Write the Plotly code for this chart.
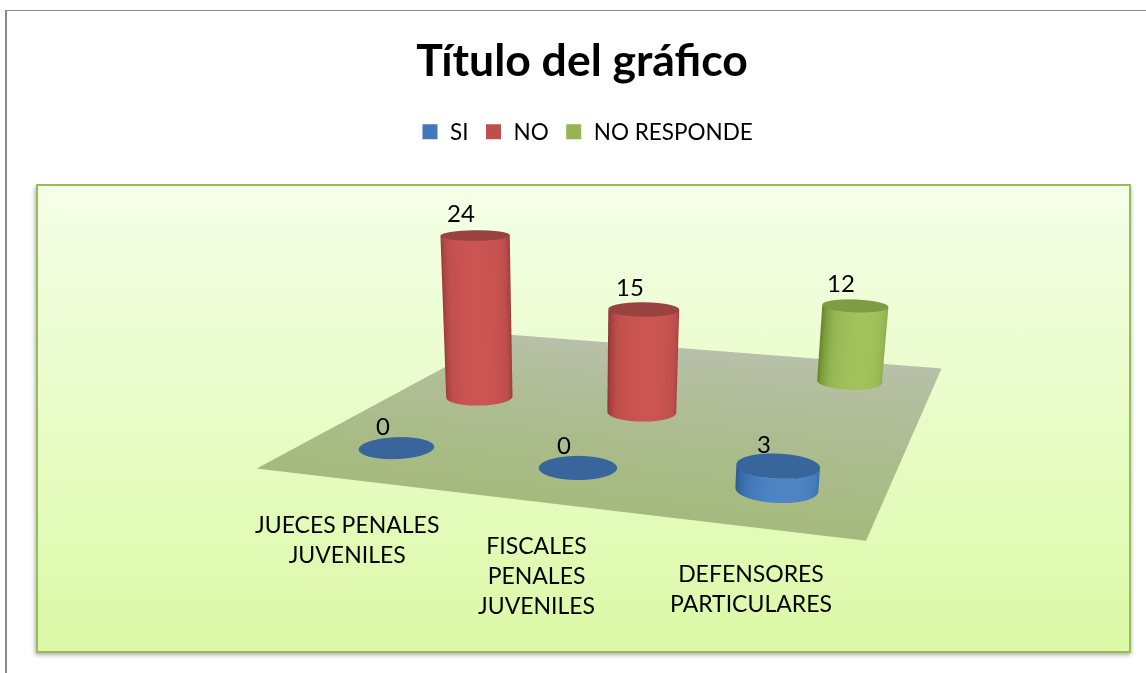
import numpy as np
import plotly.graph_objects as go
import urllib.parse

categories = ["JUECES PENALES<br>JUVENILES", "FISCALES<br>PENALES<br>JUVENILES", "DEFENSORES<br>PARTICULARES"]
series_names = ["SI", "NO", "NO RESPONDE"]
si_values = [0, 0, 3]
no_values = [24, 15, None]
nr_values = [None, None, 12]
series_colors = ["#4279B8", "#BE4F4C", "#94B552"]
dark_colors = ["#2F5C94", "#8E3533", "#6B8A30"]
light_colors = ["#4F85C5", "#CC5452", "#A2C25C"]
cap_colors = ["#38669C", "#9A4240", "#7F9C42"]
cat_xshift = [59, 43, 29]
cat_yshift = [-24, -33, -17]

FONT = "Lato"
W, H = 1146, 1130   # larger canvas: the 3D camera's vertical field of view follows the figure height
fig = go.Figure()

flat = dict(ambient=1, diffuse=0, specular=0, fresnel=0)

# floor
fx = np.array([-0.5, 2.5])
fy = np.linspace(-0.5, 2.5, 12)
X, Y = np.meshgrid(fx, fy)
fig.add_trace(go.Surface(x=X, y=Y, z=np.zeros_like(X), surfacecolor=Y,
                         colorscale=[[0, "#A5BA7E"], [1, "#B8C0AA"]], showscale=False,
                         lighting=flat, hoverinfo="skip"))

theta = np.linspace(0, 2 * np.pi, 97)
rx, ry = 0.195, 0.179
az = np.radians(-65)

def cyl(i, j, v, k):
    if v > 0:
        th, zz = np.meshgrid(theta, np.array([0.0, v]))
        fig.add_trace(go.Surface(x=i + rx * np.cos(th), y=j + ry * np.sin(th), z=zz,
                                 surfacecolor=np.cos(th - az), cmin=-1, cmax=1,
                                 colorscale=[[0, dark_colors[k]], [0.5, dark_colors[k]], [0.8, series_colors[k]],
                                             [1, light_colors[k]]],
                                 showscale=False, hoverinfo="skip", lighting=flat))
    T, R = np.meshgrid(theta, np.array([0, 1.0]))
    fig.add_trace(go.Surface(x=i + rx * R * np.cos(T), y=j + ry * R * np.sin(T),
                             z=np.full_like(T, v + 0.03), surfacecolor=np.zeros_like(T), cmin=0, cmax=1,
                             colorscale=[[0, cap_colors[k]], [1, cap_colors[k]]], showscale=False,
                             hoverinfo="skip", lighting=flat))

annots = []
for k, vals in enumerate([si_values, no_values, nr_values]):
    for i, v in enumerate(vals):
        if v is None:
            continue
        cyl(i, k, v, k)
        annots.append(dict(x=i, y=k, z=v, text=str(v), showarrow=False, xshift=-14, yshift=23,
                           font=dict(family=FONT, size=24, color="#000")))
    fig.add_trace(go.Scatter3d(x=[None], y=[None], z=[None], mode="markers", name=series_names[k],
                               marker=dict(symbol="square", size=15, color=series_colors[k]), showlegend=True))

for i, c in enumerate(categories):
    annots.append(dict(x=i, y=-1.0, z=0, text=c, showarrow=False, xshift=cat_xshift[i], yshift=cat_yshift[i],
                       font=dict(family=FONT, size=23, color="#000")))

svg = ('<svg xmlns="http://www.w3.org/2000/svg" width="1146" height="673">'
       '<defs><linearGradient id="g" x1="0" y1="0" x2="0" y2="1">'
       '<stop offset="0" stop-color="#F5FFE8"/><stop offset="1" stop-color="#DBF9A6"/></linearGradient>'
       '<filter id="s" x="-5%" y="-5%" width="110%" height="110%"><feGaussianBlur stdDeviation="2"/></filter></defs>'
       '<rect x="35" y="187" width="1096" height="468" fill="#777" opacity="0.6" filter="url(#s)"/>'
       '<rect x="37" y="185" width="1093" height="467" fill="url(#g)" stroke="#9BBB59" stroke-width="2"/>'
       '<line x1="6" y1="673" x2="6" y2="10" stroke="#8a8a8a" stroke-width="2"/><line x1="6" y1="10.5" x2="1146" y2="10.5" stroke="#8a8a8a"/>'
       '</svg>')
uri = "data:image/svg+xml," + urllib.parse.quote(svg)

none_axis = dict(visible=False, showgrid=False, zeroline=False, showbackground=False)
fig.update_layout(
    width=W, height=H, margin=dict(l=0, r=0, t=0, b=0),
    paper_bgcolor="white", showlegend=True,
    images=[dict(source=uri, xref="paper", yref="paper", x=0, y=1, sizex=1, sizey=673 / H,
                 sizing="stretch", xanchor="left", yanchor="top", layer="below")],
    title=dict(text="<b>Título del gráfico</b>", x=582 / W, xanchor="center", y=1 - 60 / H, yanchor="middle",
               font=dict(family=FONT, size=44.5, color="#000")),
    legend=dict(orientation="h", x=584 / W, xanchor="center", y=1 - 132 / H, yanchor="middle",
                font=dict(family=FONT, size=22.5, color="#000"), bgcolor="rgba(0,0,0,0)"),
    scene=dict(
        domain=dict(x=[0, 1], y=[0, 1]),
        xaxis=dict(range=[-0.5, 4.251], **none_axis),
        yaxis=dict(range=[-7.148, 2.5], **none_axis),
        zaxis=dict(range=[0, 28.6], **none_axis),
        aspectmode="manual", aspectratio=dict(x=2.556, y=5.66, z=0.6),
        camera=dict(eye=dict(x=0.684, y=-1.923, z=0.821), center=dict(x=0, y=0, z=0), up=dict(x=0, y=0, z=1)),
        annotations=annots, bgcolor="rgba(0,0,0,0)",
    ),
)
fig.write_html("out.html", config=dict(displayModeBar=False),
               post_script="document.documentElement.style.overflow='hidden';document.body.style.overflow='hidden';document.body.style.margin='0';")
